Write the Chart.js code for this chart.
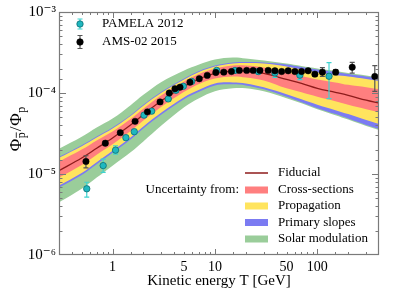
<!DOCTYPE html>
<html><head><meta charset="utf-8">
<script src="https://cdn.jsdelivr.net/npm/chart.js@4"></script>
<style>html,body{margin:0;padding:0;background:#fff}#wrap{width:415px;height:290px}</style>
</head><body><div id="wrap"><canvas id="c" width="415" height="290"></canvas></div>
<script>
// ---------------- data ----------------
const seriesNames = ['PAMELA 2012', 'AMS-02 2015'];
const fiducialName = 'Fiducial';
const uncertaintyLabel = 'Uncertainty from:';
const bandNames = ['Cross-sections', 'Propagation', 'Primary slopes', 'Solar modulation'];
const xTickLabels = [1, 5, 10, 50, 100];
const xAxisTitle = 'Kinetic energy T [GeV]';

const pamelaEnergy = [0.56, 0.81, 1.07, 1.35, 1.63, 2.03, 2.41, 3.50, 4.16, 4.91, 5.93, 10.4, 15.7, 26.5, 38.5, 67.5, 130];
const pamelaRatio  = [6.57e-6, 1.27e-5, 1.97e-5, 2.81e-5, 3.33e-5, 5.33e-5, 5.97e-5, 8.45e-5, 1.08e-4, 1.21e-4, 1.39e-4, 1.90e-4, 1.90e-4, 1.84e-4, 1.77e-4, 1.66e-4, 1.61e-4];
const pamelaErrUp  = [1.34e-6, 2.6e-6, 2.6e-6, 2.0e-6, 2.2e-6, 3.0e-6, 3.0e-6, 4e-6, 5e-6, 5e-6, 6e-6, 8e-6, 9e-6, 1.2e-5, 1.8e-5, 1.6e-5, 7.6e-5];
const pamelaErrDn  = [1.38e-6, 2.2e-6, 2.1e-6, 2.0e-6, 2.2e-6, 3.0e-6, 3.0e-6, 4e-6, 5e-6, 5e-6, 6e-6, 8e-6, 9e-6, 1.2e-5, 2.1e-5, 2.0e-5, 7.6e-5];

const amsEnergy = [0.55, 0.85, 1.19, 1.66, 2.19, 2.91, 3.58, 4.07, 4.56, 5.70, 7.03, 8.41, 10.2, 12.2, 14.5, 17.3, 20.4, 23.6, 27.5, 33.1, 38.5, 44.8, 51.9, 60.3, 70.1, 81.3, 94.6, 112, 151, 219, 364];
const amsRatio  = [1.43e-5, 2.40e-5, 3.24e-5, 4.47e-5, 5.85e-5, 7.76e-5, 1.00e-4, 1.13e-4, 1.18e-4, 1.36e-4, 1.50e-4, 1.65e-4, 1.79e-4, 1.81e-4, 1.84e-4, 1.90e-4, 1.90e-4, 1.90e-4, 1.90e-4, 1.90e-4, 1.88e-4, 1.84e-4, 1.88e-4, 1.84e-4, 1.84e-4, 1.88e-4, 1.71e-4, 1.81e-4, 1.81e-4, 2.08e-4, 1.60e-4];
const amsErrUp  = [2.5e-6, 1.5e-6, 1.2e-6, 1.2e-6, 1.5e-6, 2e-6, 2.5e-6, 3e-6, 3e-6, 3.5e-6, 3.5e-6, 4e-6, 4e-6, 4e-6, 4e-6, 4.5e-6, 4.5e-6, 4.5e-6, 5e-6, 5e-6, 5e-6, 5.5e-6, 6e-6, 6.5e-6, 7e-6, 8e-6, 9e-6, 2.5e-5, 1.3e-5, 3.1e-5, 5.8e-5];
const amsErrDn  = [2.4e-6, 1.5e-6, 1.2e-6, 1.2e-6, 1.5e-6, 2e-6, 2.5e-6, 3e-6, 3e-6, 3.5e-6, 3.5e-6, 4e-6, 4e-6, 4e-6, 4e-6, 4.5e-6, 4.5e-6, 4.5e-6, 5e-6, 5e-6, 5e-6, 5.5e-6, 6e-6, 6.5e-6, 7e-6, 8e-6, 9e-6, 2.1e-5, 1.3e-5, 3.2e-5, 5.5e-5];

const modelEnergy = [0.3, 0.5, 0.7, 1, 1.5, 2, 3, 5, 7, 10, 15, 20, 30, 50, 70, 100, 150, 200, 300, 400];
const fiducial = [1.10e-5, 1.574e-5, 2.075e-5, 2.789e-5, 4.02e-5, 5.41e-5, 8.03e-5, 1.208e-4, 1.492e-4, 1.742e-4, 1.869e-4, 1.869e-4, 1.742e-4, 1.471e-4, 1.314e-4, 1.142e-4, 1.020e-4, 9.37e-5, 8.14e-5, 7.48e-5];
const xsecHi  = [1.42e-5, 2.001e-5, 2.600e-5, 3.350e-5, 4.77e-5, 6.405e-5, 9.37e-5, 1.391e-4, 1.718e-4, 2.006e-4, 2.183e-4, 2.183e-4, 2.063e-4, 1.793e-4, 1.624e-4, 1.471e-4, 1.352e-4, 1.260e-4, 1.174e-4, 1.110e-4];
const xsecLo  = [9.03e-6, 1.293e-5, 1.73e-5, 2.323e-5, 3.40e-5, 4.567e-5, 6.777e-5, 1.034e-4, 1.296e-4, 1.513e-4, 1.601e-4, 1.557e-4, 1.430e-4, 1.142e-4, 1.020e-4, 8.99e-5, 7.91e-5, 7.17e-5, 6.32e-5, 5.81e-5];
const propHi  = [1.59e-5, 2.208e-5, 2.828e-5, 3.645e-5, 5.186e-5, 6.971e-5, 1.006e-4, 1.471e-4, 1.818e-4, 2.122e-4, 2.309e-4, 2.342e-4, 2.309e-4, 2.122e-4, 1.950e-4, 1.793e-4, 1.670e-4, 1.601e-4, 1.492e-4, 1.410e-4];
const propLo  = [7.21e-6, 1.031e-5, 1.398e-5, 1.934e-5, 2.828e-5, 3.858e-5, 5.725e-5, 8.86e-5, 1.094e-4, 1.314e-4, 1.352e-4, 1.314e-4, 1.174e-4, 9.64e-5, 8.37e-5, 7.17e-5, 6.14e-5, 5.49e-5, 4.63e-5, 4.14e-5];
const slopeHi = [1.63e-5, 2.271e-5, 2.910e-5, 3.750e-5, 5.33e-5, 7.17e-5, 1.034e-4, 1.513e-4, 1.869e-4, 2.183e-4, 2.376e-4, 2.409e-4, 2.376e-4, 2.245e-4, 2.093e-4, 1.950e-4, 1.818e-4, 1.718e-4, 1.601e-4, 1.513e-4];
const slopeLo = [6.82e-6, 9.75e-6, 1.322e-5, 1.828e-5, 2.675e-5, 3.645e-5, 5.41e-5, 8.37e-5, 1.034e-4, 1.242e-4, 1.278e-4, 1.242e-4, 1.110e-4, 8.99e-5, 7.69e-5, 6.50e-5, 5.49e-5, 4.83e-5, 4.02e-5, 3.59e-5];
const solarHi = [2.05e-5, 2.885e-5, 3.750e-5, 4.83e-5, 7.07e-5, 9.506e-5, 1.371e-4, 1.896e-4, 2.245e-4, 2.585e-4, 2.735e-4, 2.659e-4, 2.513e-4, 2.309e-4, 2.152e-4, 2.006e-4, 1.869e-4, 1.767e-4, 1.647e-4, 1.557e-4];
const solarLo = [4.47e-6, 6.571e-6, 9.03e-6, 1.267e-5, 1.854e-5, 2.527e-5, 3.967e-5, 6.68e-5, 8.61e-5, 1.049e-4, 1.142e-4, 1.142e-4, 1.049e-4, 8.61e-5, 7.48e-5, 6.32e-5, 5.33e-5, 4.70e-5, 3.91e-5, 3.49e-5];

// ---------------- styles ----------------
const SERIF = '"Liberation Serif", "DejaVu Serif", serif';
const C = {
  fid: '#8e1b1b', red: '#ff7f7f', yellow: '#ffe45e', blue: '#7b7bf2', green: '#9acd9a',
  pamFill: '#1fb7bf', pamEdge: '#0b6e74', pamErr: '#3fd3d0', amsFill: '#000000', amsErr: '#555555', frame: '#7a7a7a'
};
const pts = (xs, ys) => xs.map((v, i) => ({x: v, y: ys[i]}));
const isDecade = v => Math.abs(Math.log10(v) - Math.round(Math.log10(v))) < 1e-6;
const sup = {'-':'⁻','0':'⁰','1':'¹','2':'²','3':'³','4':'⁴','5':'⁵','6':'⁶','7':'⁷','8':'⁸','9':'⁹'};

function band(data, color, fill, order) {
  return {type: 'line', data, fill: fill ? '+1' : false, backgroundColor: color, borderColor: 'rgba(0,0,0,0)',
    borderWidth: 0, pointRadius: 0, tension: 0.35, order};
}

const errorBars = {
  id: 'errorBars',
  beforeDatasetDraw(chart, args) {
    const ds = chart.data.datasets[args.index];
    if (!ds.errUp) return;
    const ctx = chart.ctx, y = chart.scales.y;
    ctx.save();
    ctx.strokeStyle = ds.errColor; ctx.lineWidth = 1.2;
    ctx.beginPath();
    args.meta.data.forEach((el, i) => {
      const v = ds.data[i].y;
      const yt = y.getPixelForValue(v + ds.errUp[i]);
      const yb = y.getPixelForValue(v - ds.errDn[i]);
      ctx.moveTo(el.x, yt); ctx.lineTo(el.x, yb);
      ctx.moveTo(el.x - 2.5, yt); ctx.lineTo(el.x + 2.5, yt);
      ctx.moveTo(el.x - 2.5, yb); ctx.lineTo(el.x + 2.5, yb);
    });
    ctx.stroke();
    ctx.restore();
  }
};

const frameTicks = {
  id: 'frameTicks',
  afterDatasetsDraw(chart) {
    const {ctx, chartArea: a, scales: {x, y}} = chart;
    ctx.save();
    ctx.strokeStyle = C.frame; ctx.lineWidth = 1;
    ctx.beginPath();
    x.ticks.forEach(t => {
      const px = Math.round(x.getPixelForValue(t.value)) + 0.5;
      if (px < a.left || px > a.right) return;
      const L = isDecade(t.value) ? 6 : 3;
      ctx.moveTo(px, a.bottom); ctx.lineTo(px, a.bottom - L);
      ctx.moveTo(px, a.top); ctx.lineTo(px, a.top + L);
    });
    y.ticks.forEach(t => {
      const py = Math.round(y.getPixelForValue(t.value)) + 0.5;
      if (py < a.top || py > a.bottom) return;
      const L = isDecade(t.value) ? 7 : 3.5;
      ctx.moveTo(a.left, py); ctx.lineTo(a.left + L, py);
      ctx.moveTo(a.right, py); ctx.lineTo(a.right - L, py);
    });
    ctx.stroke();
    ctx.lineWidth = 1.2;
    ctx.strokeRect(a.left + 0.5, a.top + 0.5, a.right - a.left - 1, a.bottom - a.top - 1);
    ctx.restore();
  }
};

function marker(ctx, x, y, fill, edge, err, h) {
  ctx.strokeStyle = err; ctx.lineWidth = 1.2;
  ctx.beginPath();
  ctx.moveTo(x, y - h); ctx.lineTo(x, y + h);
  ctx.moveTo(x - 2.5, y - h); ctx.lineTo(x + 2.5, y - h);
  ctx.moveTo(x - 2.5, y + h); ctx.lineTo(x + 2.5, y + h);
  ctx.stroke();
  ctx.beginPath(); ctx.arc(x, y, 3.2, 0, Math.PI * 2);
  ctx.fillStyle = fill; ctx.fill();
  ctx.strokeStyle = edge; ctx.lineWidth = 0.8; ctx.stroke();
}

const legends = {
  id: 'legends',
  afterDraw(chart) {
    const ctx = chart.ctx;
    ctx.save();
    marker(ctx, 80, 24, C.pamFill, C.pamEdge, C.pamErr, 5);
    marker(ctx, 80, 42, C.amsFill, C.amsFill, C.amsErr, 6.5);
    ctx.fillStyle = '#000'; ctx.font = '13px ' + SERIF; ctx.textBaseline = 'middle'; ctx.textAlign = 'left';
    ctx.fillText(seriesNames[0], 102, 24);
    ctx.fillText(seriesNames[1], 102, 42);
    ctx.strokeStyle = C.fid; ctx.lineWidth = 1.5;
    ctx.beginPath(); ctx.moveTo(245, 173); ctx.lineTo(268, 173); ctx.stroke();
    ctx.fillText(fiducialName, 278, 173);
    const cols = [C.red, C.yellow, C.blue, C.green];
    const ys = [190, 206, 222.5, 239];
    bandNames.forEach((n, i) => {
      ctx.fillStyle = cols[i]; ctx.fillRect(245, ys[i] - 3.5, 23, 7);
      ctx.fillStyle = '#000'; ctx.fillText(n, 278, ys[i]);
    });
    ctx.textAlign = 'right';
    ctx.fillText(uncertaintyLabel, 239, 190);
    // y axis title: Φ_{p̄}/Φ_p
    ctx.translate(15, 129); ctx.rotate(-Math.PI / 2);
    ctx.textAlign = 'left'; ctx.textBaseline = 'alphabetic';
    const big = '17px ' + SERIF, small = '12px ' + SERIF;
    ctx.font = big; const wPhi = ctx.measureText('Φ').width, wSl = ctx.measureText('/').width;
    ctx.font = small; const wp = ctx.measureText('p').width;
    const total = 2 * wPhi + 2 * wp + wSl + 3;
    let cx = -total / 2;
    ctx.font = big; ctx.fillText('Φ', cx, 6); cx += wPhi + 0.5;
    ctx.font = small; ctx.fillText('p', cx, 9.5);
    ctx.strokeStyle = '#000'; ctx.lineWidth = 0.8;
    ctx.beginPath(); ctx.moveTo(cx + 0.5, 1.3); ctx.lineTo(cx + wp, 1.3); ctx.stroke();
    cx += wp + 1;
    ctx.font = big; ctx.fillText('/', cx, 6); cx += wSl + 1;
    ctx.fillText('Φ', cx, 6); cx += wPhi + 0.5;
    ctx.font = small; ctx.fillText('p', cx, 9.5);
    ctx.restore();
  }
};

new Chart(document.getElementById('c'), {
  type: 'line',
  data: {
    datasets: [
      {label: seriesNames[1], data: pts(amsEnergy, amsRatio), showLine: false, pointRadius: 3.2,
        pointBackgroundColor: C.amsFill, pointBorderColor: C.amsFill, pointBorderWidth: 0.5,
        errUp: amsErrUp, errDn: amsErrDn, errColor: C.amsErr, order: 0},
      {label: seriesNames[0], data: pts(pamelaEnergy, pamelaRatio), showLine: false, pointRadius: 3.2,
        pointBackgroundColor: C.pamFill, pointBorderColor: C.pamEdge, pointBorderWidth: 0.8,
        errUp: pamelaErrUp, errDn: pamelaErrDn, errColor: C.pamErr, order: 0},
      {label: fiducialName, type: 'line', data: pts(modelEnergy, fiducial), borderColor: C.fid, borderWidth: 1.3,
        pointRadius: 0, fill: false, tension: 0.35, order: 1},
      band(pts(modelEnergy, xsecHi), C.red, true, 2),
      band(pts(modelEnergy, xsecLo), C.red, false, 2),
      band(pts(modelEnergy, propHi), C.yellow, true, 3),
      band(pts(modelEnergy, propLo), C.yellow, false, 3),
      band(pts(modelEnergy, slopeHi), C.blue, true, 4),
      band(pts(modelEnergy, slopeLo), C.blue, false, 4),
      band(pts(modelEnergy, solarHi), C.green, true, 5),
      band(pts(modelEnergy, solarLo), C.green, false, 5)
    ]
  },
  options: {
    responsive: false, animation: false, devicePixelRatio: 1, events: [],
    layout: {padding: {left: 0, right: 36, top: 10, bottom: 0}},
    plugins: {legend: {display: false}, tooltip: {enabled: false}},
    scales: {
      x: {type: 'logarithmic', min: 0.3, max: 400,
        grid: {display: false, drawTicks: false}, border: {display: false},
        ticks: {autoSkip: false, maxRotation: 0, padding: 4, color: '#000', font: {family: SERIF, size: 14},
          callback: v => xTickLabels.some(t => Math.abs(t - v) < 1e-9) ? String(v) : ''},
        title: {display: true, text: xAxisTitle, color: '#000', font: {family: SERIF, size: 15}, padding: {top: 0, bottom: 0}},
        afterFit: s => { s.height = 35; }
      },
      y: {type: 'logarithmic', min: 1e-6, max: 1e-3,
        grid: {display: false, drawTicks: false}, border: {display: false},
        ticks: {autoSkip: false, padding: 3, color: '#000', font: {family: SERIF, size: 15},
          callback: v => isDecade(v) ? '10' + String(Math.round(Math.log10(v))).split('').map(c => sup[c]).join('') : ''},
        afterFit: s => { s.width = 59; }
      }
    }
  },
  plugins: [errorBars, frameTicks, legends]
});
</script></body></html>
